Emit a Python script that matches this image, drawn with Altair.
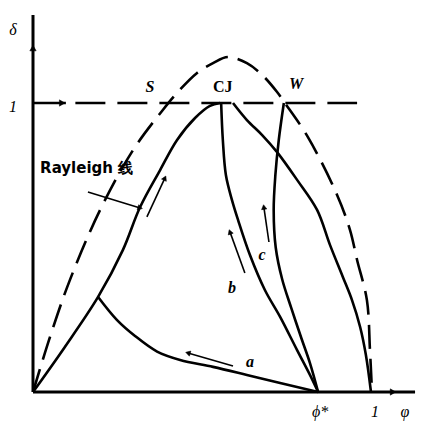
import altair as alt
import pandas as pd

# ---- curves in the (phi, delta) plane ----
# Rayleigh line: origin -> CJ point
ray_phi = [0, 0.094, 0.192, 0.265, 0.316, 0.375, 0.425, 0.478, 0.522, 0.552]
ray_delta = [0, 0.156, 0.329, 0.491, 0.640, 0.768, 0.872, 0.948, 0.990, 1.0]

# dashed Hugoniot arc through S, peak, W and down to phi = 1
hug_phi = [0, 0.050, 0.109, 0.198, 0.295, 0.383, 0.425, 0.484, 0.531, 0.575,
           0.631, 0.676, 0.720, 0.743, 0.811, 0.897, 0.935, 0.956, 0.985, 0.994, 1.0]
hug_delta = [0, 0.190, 0.388, 0.630, 0.837, 0.976, 1.035, 1.104, 1.138, 1.159,
             1.138, 1.097, 1.038, 1.0, 0.882, 0.682, 0.561, 0.457, 0.318, 0.145, 0]

# trajectory a: from the Rayleigh line down to phi*
a_phi = [0.192, 0.248, 0.301, 0.366, 0.434, 0.531, 0.631, 0.729, 0.841]
a_delta = [0.329, 0.249, 0.194, 0.140, 0.111, 0.087, 0.059, 0.031, 0]

# trajectory b: CJ -> phi*
b_phi = [0.555, 0.560, 0.569, 0.587, 0.605, 0.640, 0.684, 0.729, 0.779, 0.817, 0.841]
b_delta = [1.0, 0.872, 0.751, 0.664, 0.595, 0.474, 0.353, 0.260, 0.145, 0.059, 0]

# trajectory c: W -> phi*
c_phi = [0.740, 0.725, 0.715, 0.710, 0.716, 0.735, 0.762, 0.792, 0.817, 0.841]
c_delta = [1.0, 0.872, 0.751, 0.630, 0.500, 0.390, 0.290, 0.185, 0.100, 0]

# solid curve from CJ to phi = 1
f_phi = [0.590, 0.631, 0.676, 0.720, 0.779, 0.838, 0.876, 0.914, 0.941, 0.965, 0.982, 0.997]
f_delta = [1.0, 0.941, 0.889, 0.830, 0.734, 0.630, 0.509, 0.398, 0.318, 0.225, 0.128, 0]

# short direction arrows: start/end points, head at the first point
arrow_names = ["ray_ptr", "ray_dir", "a_dir", "b_dir", "c_dir"]
arrow_phi0 = [0.316, 0.389, 0.457, 0.581, 0.681]
arrow_delta0 = [0.637, 0.740, 0.135, 0.554, 0.640]
arrow_phi1 = [0.162, 0.336, 0.590, 0.625, 0.696]
arrow_delta1 = [0.692, 0.606, 0.090, 0.412, 0.519]
arrow_angle = [107, 25, 286, 340, 352]

# axis arrowheads
axhead_phi = [0, 1.062, 0.086]
axhead_delta = [1.190, 0, 1.0]
axhead_angle = [0, 90, 90]

# text labels
italic_text = ["S", "W", "a", "b", "c"]
italic_phi = [0.345, 0.776, 0.640, 0.587, 0.676]
italic_delta = [1.055, 1.066, 0.104, 0.360, 0.474]

upright_text = ["CJ"]
upright_phi = [0.560]
upright_delta = [1.055]

tick_text = ["δ", "1", "ϕ*", "1", "φ"]
tick_phi = [-0.059, -0.059, 0.847, 1.009, 1.097]
tick_delta = [1.253, 0.986, -0.069, -0.069, -0.069]

PHI_MAX = 1.1121
DELTA_MAX = 1.3045

xs = alt.Scale(domain=[0, PHI_MAX], nice=False, zero=False)
ys = alt.Scale(domain=[0, DELTA_MAX], nice=False, zero=False)
X = alt.X("phi:Q", scale=xs, axis=None)
Y = alt.Y("delta:Q", scale=ys, axis=None)


def frame(name, phi, delta):
    return pd.DataFrame({"phi": phi, "delta": delta, "curve": name, "k": range(len(phi))})


solid = pd.concat([
    frame("rayleigh", ray_phi, ray_delta),
    frame("a", a_phi, a_delta),
    frame("b", b_phi, b_delta),
    frame("c", c_phi, c_delta),
    frame("f", f_phi, f_delta),
])
hug = frame("hug", hug_phi, hug_delta)

solid_layer = alt.Chart(solid).mark_line(
    color="black", strokeWidth=2.6, interpolate="catmull-rom", clip=False
).encode(x=X, y=Y, detail="curve:N", order="k:Q")

hug_layer = alt.Chart(hug).mark_line(
    color="black", strokeWidth=2.6, interpolate="catmull-rom", strokeDash=[24, 10], clip=False
).encode(x=X, y=Y, order="k:Q")

# axes
axes = pd.DataFrame({
    "phi": [0, 0, 0, 1.127],
    "delta": [0, DELTA_MAX, 0, 0],
    "curve": ["y", "y", "x", "x"],
    "k": [0, 1, 0, 1],
})
axes_layer = alt.Chart(axes).mark_line(color="black", strokeWidth=3, clip=False).encode(
    x=X, y=Y, detail="curve:N", order="k:Q")

# the delta = 1 reference line: solid stub then dashes
one_solid = pd.DataFrame({"phi": [0, 0.097], "delta": [1.0, 1.0], "k": [0, 1]})
one_dash = pd.DataFrame({"phi": [0.125, 0.956], "delta": [1.0, 1.0], "k": [0, 1]})
one_solid_layer = alt.Chart(one_solid).mark_line(color="black", strokeWidth=2.6).encode(
    x=X, y=Y, order="k:Q")
one_dash_layer = alt.Chart(one_dash).mark_line(
    color="black", strokeWidth=2.6, strokeDash=[30, 12]).encode(x=X, y=Y, order="k:Q")

# direction arrows
arrows = pd.DataFrame({
    "phi": arrow_phi0 + arrow_phi1,
    "delta": arrow_delta0 + arrow_delta1,
    "curve": arrow_names + arrow_names,
    "k": [0] * len(arrow_names) + [1] * len(arrow_names),
})
arrow_lines = alt.Chart(arrows).mark_line(color="black", strokeWidth=1.6).encode(
    x=X, y=Y, detail="curve:N", order="k:Q")

heads = pd.DataFrame({"phi": arrow_phi0, "delta": arrow_delta0, "ang": arrow_angle})
arrow_heads = alt.Chart(heads).mark_point(
    shape="triangle-up", filled=True, fill="black", stroke="black", strokeWidth=0.5,
    opacity=1, size=28
).encode(x=X, y=Y, angle=alt.Angle("ang:Q", scale=None))

axheads = pd.DataFrame({"phi": axhead_phi, "delta": axhead_delta, "ang": axhead_angle})
axis_heads = alt.Chart(axheads).mark_point(
    shape="triangle-up", filled=True, fill="black", stroke="black", strokeWidth=0.5,
    opacity=1, size=40, clip=False
).encode(x=X, y=Y, angle=alt.Angle("ang:Q", scale=None))

# labels
italic_df = pd.DataFrame({"phi": italic_phi, "delta": italic_delta, "t": italic_text})
italic_layer = alt.Chart(italic_df).mark_text(
    font="Liberation Serif", fontSize=16, fontWeight="bold", fontStyle="italic", color="black"
).encode(x=X, y=Y, text="t:N")

upright_df = pd.DataFrame({"phi": upright_phi, "delta": upright_delta, "t": upright_text})
upright_layer = alt.Chart(upright_df).mark_text(
    font="Liberation Serif", fontSize=16, fontWeight="bold", color="black"
).encode(x=X, y=Y, text="t:N")

ticks = pd.DataFrame({"phi": tick_phi, "delta": tick_delta, "t": tick_text})
tick_layer = alt.Chart(ticks).mark_text(
    font="Liberation Serif", fontSize=16, fontStyle="italic", color="black", clip=False
).encode(x=X, y=Y, text="t:N")

ray_label = alt.Chart(pd.DataFrame({"phi": [0.021], "delta": [0.775], "t": ["Rayleigh 线"]})).mark_text(
    font="DejaVu Sans", fontSize=15, fontWeight="bold", align="left", color="black"
).encode(x=X, y=Y, text="t:N")

chart = alt.layer(
    axes_layer, one_solid_layer, one_dash_layer, hug_layer, solid_layer,
    arrow_lines, arrow_heads, axis_heads, italic_layer, upright_layer, tick_layer, ray_label
).properties(
    width=377, height=377,
    padding={"left": 33, "top": 15, "right": 11, "bottom": 29},
    autosize=alt.AutoSizeParams(type="none"),
    background="white",
).configure_view(stroke=None)

chart.save("out.html", embed_options={"renderer": "svg", "actions": False})
